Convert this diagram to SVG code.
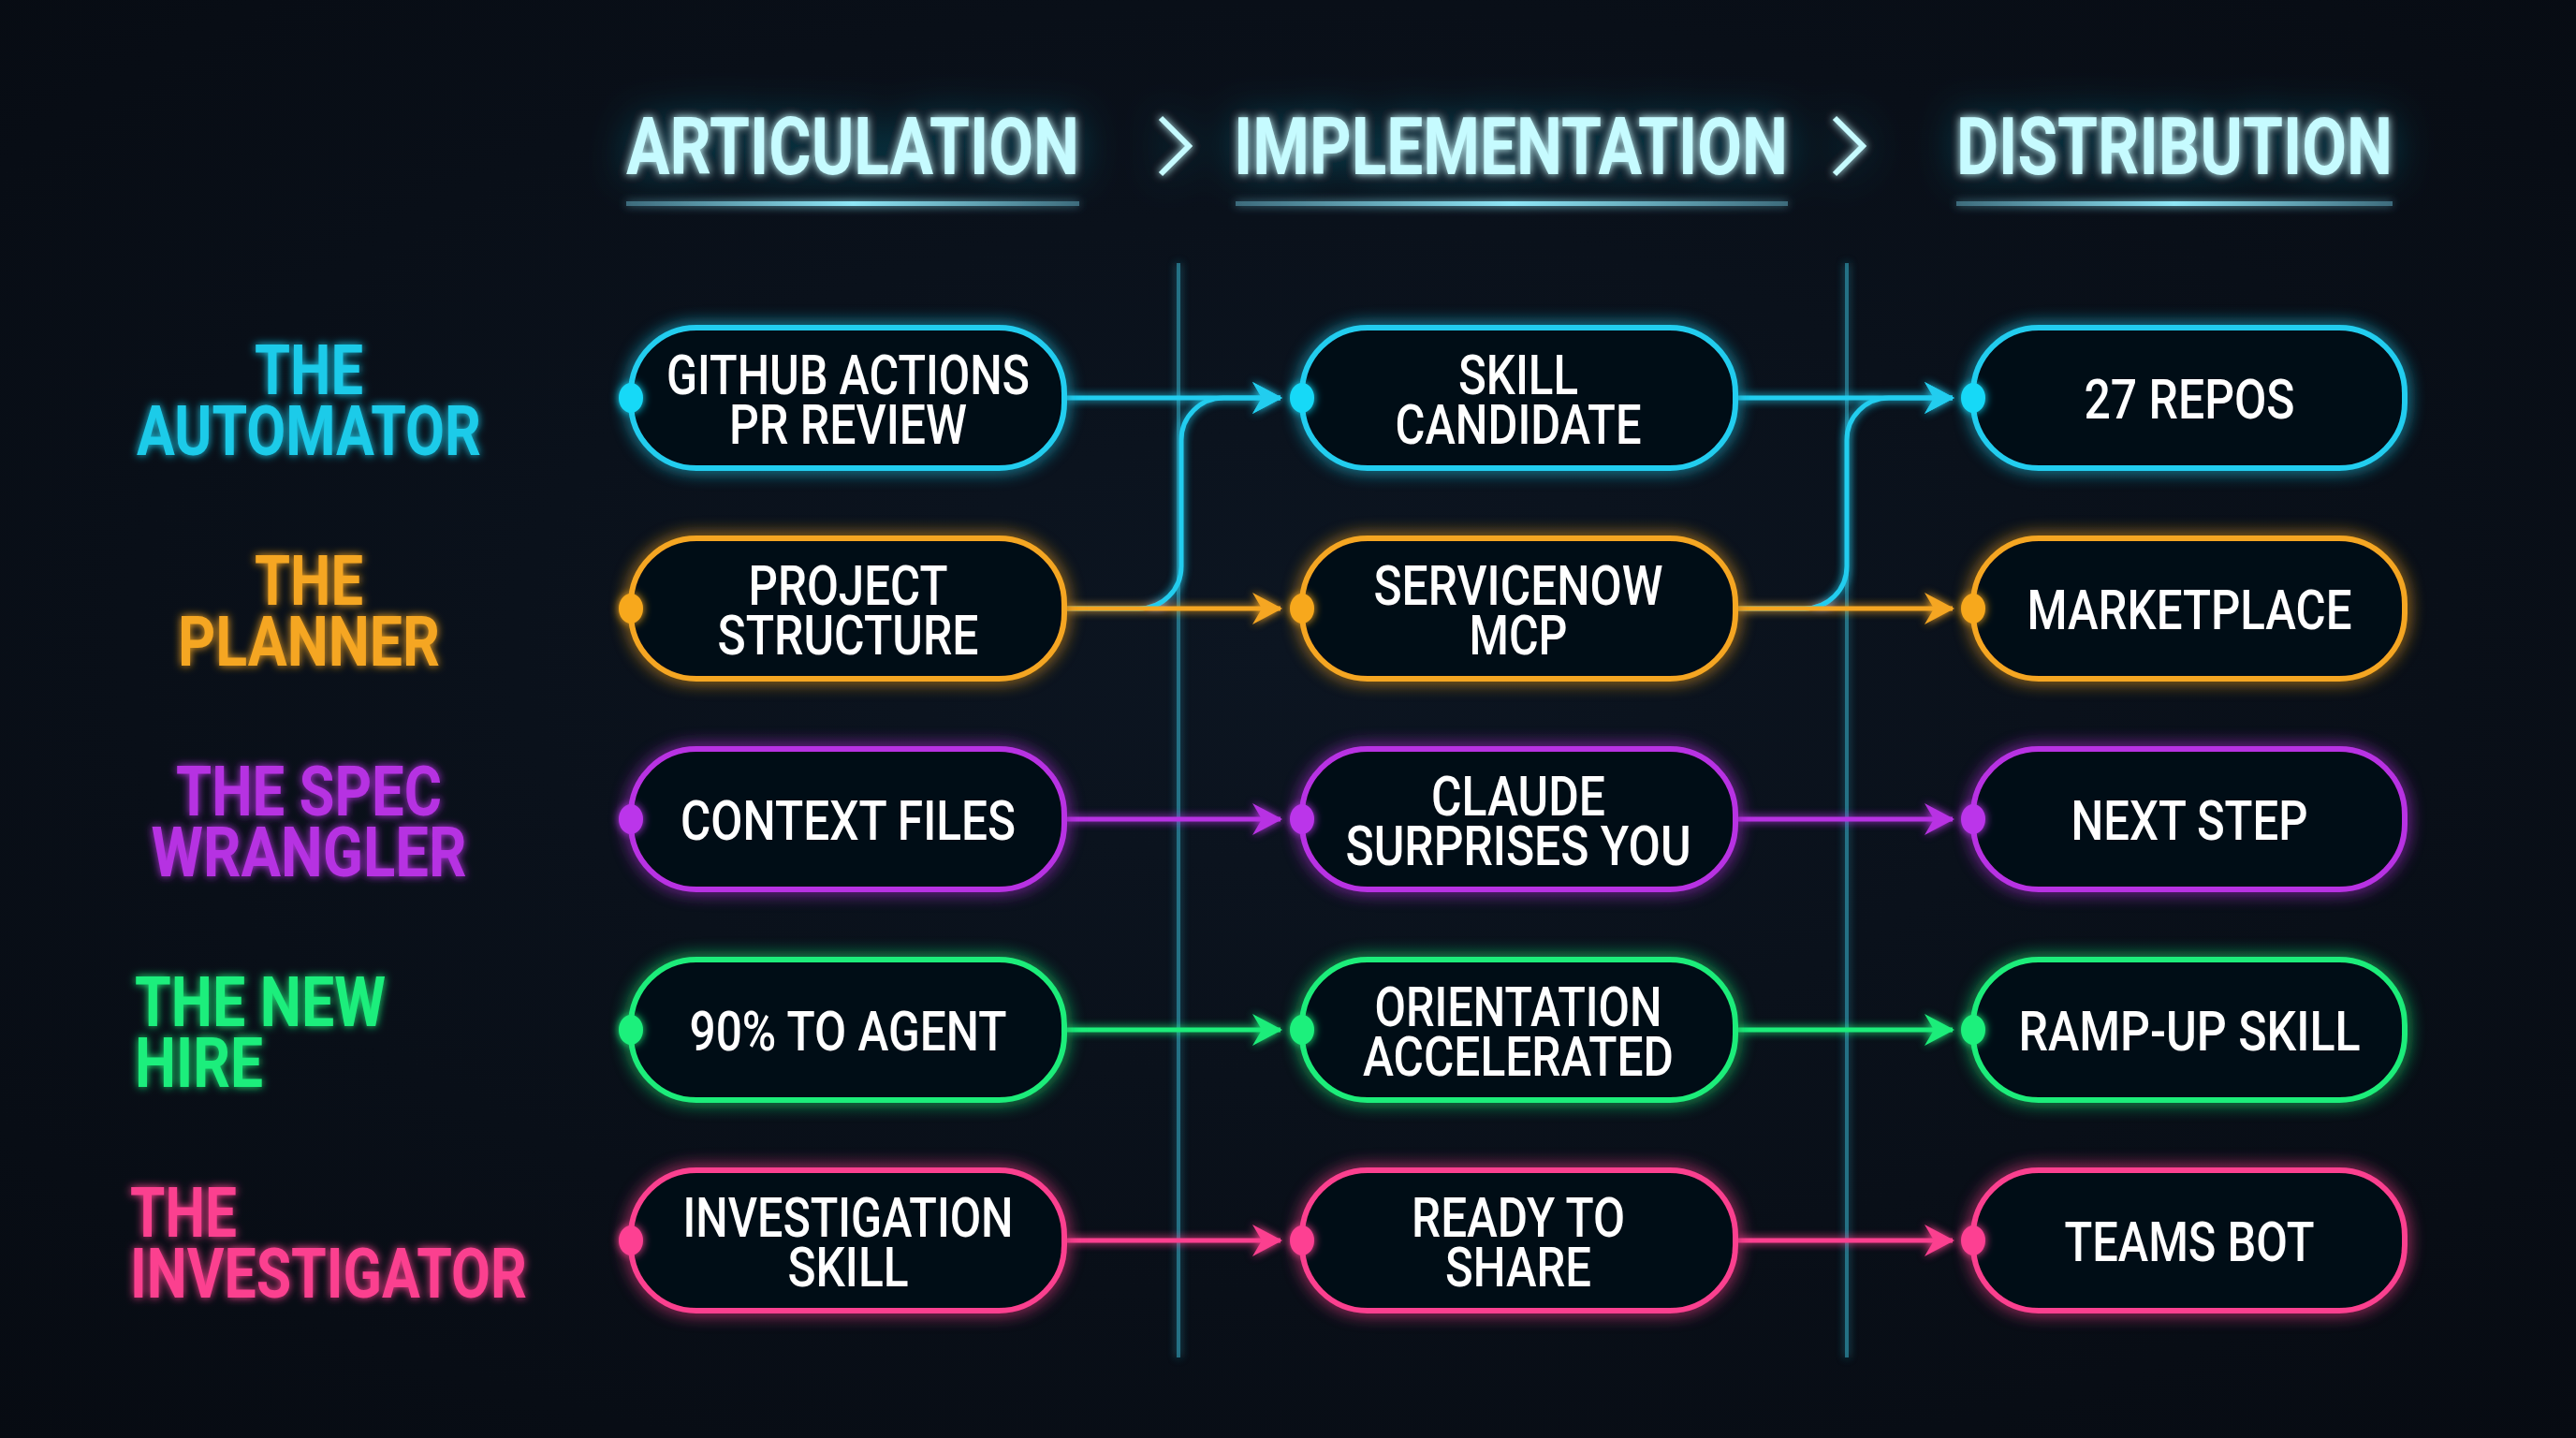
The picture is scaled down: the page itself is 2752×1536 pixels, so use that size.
<svg xmlns="http://www.w3.org/2000/svg" width="2752" height="1536" viewBox="0 0 2752 1536">
<defs>
<style>
.hdr{font-family:"Roboto","Liberation Sans",sans-serif;font-weight:700;font-size:86px;fill:#c6fbff;}
.lbl{font-family:"Roboto","Liberation Sans",sans-serif;font-weight:700;font-size:74px;}
.nt{font-family:"Roboto","Liberation Sans",sans-serif;font-weight:500;font-size:60px;fill:#ffffff;text-anchor:middle;}
.box{fill:#060b14;stroke-width:6;}
.ln{fill:none;stroke-width:5;}
.cyan .box,.cyan.ln{stroke:#22cdef;}
.cyan .dot{fill:#19d9f7;}
.orange .box,.orange.ln{stroke:#f5a623;}
.orange .dot{fill:#f7a81f;}
.purple .box,.purple.ln{stroke:#b833e3;}
.purple .dot{fill:#bb35ea;}
.green .box,.green.ln{stroke:#1ded7a;}
.green .dot{fill:#1df07c;}
.pink .box,.pink.ln{stroke:#fb3f8f;}
.pink .dot{fill:#fd3f92;}
.divider{stroke:#2c8fa6;stroke-width:4;opacity:0.7;}
</style>
<radialGradient id="bg" cx="50%" cy="45%" r="75%">
<stop offset="0" stop-color="#0c1521"/>
<stop offset="1" stop-color="#070b12"/>
</radialGradient>
<linearGradient id="ul" x1="0" x2="1" y1="0" y2="0">
<stop offset="0" stop-color="#3d6b7c"/>
<stop offset="0.5" stop-color="#8fe7f7"/>
<stop offset="1" stop-color="#3d6b7c"/>
</linearGradient>
<filter id="glow" filterUnits="userSpaceOnUse" x="0" y="0" width="2752" height="1536">
<feGaussianBlur in="SourceGraphic" stdDeviation="9" result="b"/>
<feMerge><feMergeNode in="b"/><feMergeNode in="SourceGraphic"/></feMerge>
</filter>
<filter id="glowS" filterUnits="userSpaceOnUse" x="0" y="0" width="2752" height="1536">
<feGaussianBlur in="SourceGraphic" stdDeviation="5" result="b"/>
<feMerge><feMergeNode in="b"/><feMergeNode in="SourceGraphic"/></feMerge>
</filter>
<filter id="glowH" filterUnits="userSpaceOnUse" x="0" y="0" width="2752" height="1536">
<feGaussianBlur in="SourceAlpha" stdDeviation="22" result="a"/>
<feFlood flood-color="#0f8aa3" flood-opacity="0.7"/>
<feComposite operator="in" in2="a" result="g"/>
<feGaussianBlur in="SourceGraphic" stdDeviation="4" result="b"/>
<feMerge><feMergeNode in="g"/><feMergeNode in="b"/><feMergeNode in="SourceGraphic"/></feMerge>
</filter>
<marker id="a-cyan" viewBox="0 0 32 34" refX="30" refY="17" markerWidth="32" markerHeight="34" markerUnits="userSpaceOnUse" orient="auto"><path d="M0,0 L32,17 L0,34 L10,17 Z" fill="#22cdef"/></marker>
<marker id="a-orange" viewBox="0 0 32 34" refX="30" refY="17" markerWidth="32" markerHeight="34" markerUnits="userSpaceOnUse" orient="auto"><path d="M0,0 L32,17 L0,34 L10,17 Z" fill="#f5a623"/></marker>
<marker id="a-purple" viewBox="0 0 32 34" refX="30" refY="17" markerWidth="32" markerHeight="34" markerUnits="userSpaceOnUse" orient="auto"><path d="M0,0 L32,17 L0,34 L10,17 Z" fill="#b833e3"/></marker>
<marker id="a-green" viewBox="0 0 32 34" refX="30" refY="17" markerWidth="32" markerHeight="34" markerUnits="userSpaceOnUse" orient="auto"><path d="M0,0 L32,17 L0,34 L10,17 Z" fill="#1ded7a"/></marker>
<marker id="a-pink" viewBox="0 0 32 34" refX="30" refY="17" markerWidth="32" markerHeight="34" markerUnits="userSpaceOnUse" orient="auto"><path d="M0,0 L32,17 L0,34 L10,17 Z" fill="#fb3f8f"/></marker>
</defs>

<rect x="0" y="0" width="2752" height="1536" fill="url(#bg)"/>

<!-- headers -->
<g id="headers" filter="url(#glowH)">
<text class="hdr" x="669" y="186" textLength="484" lengthAdjust="spacingAndGlyphs">ARTICULATION</text>
<text class="hdr" x="1318" y="186" textLength="592" lengthAdjust="spacingAndGlyphs">IMPLEMENTATION</text>
<text class="hdr" x="2090" y="186" textLength="466" lengthAdjust="spacingAndGlyphs">DISTRIBUTION</text>
<polyline points="1240,126 1270,156 1240,186" fill="none" stroke="#c6fbff" stroke-width="6"/>
<polyline points="1960,126 1990,156 1960,186" fill="none" stroke="#c6fbff" stroke-width="6"/>
</g>
<g id="underlines" filter="url(#glowS)">
<rect x="669" y="215" width="484" height="5" fill="url(#ul)"/>
<rect x="1320" y="215" width="590" height="5" fill="url(#ul)"/>
<rect x="2090" y="215" width="466" height="5" fill="url(#ul)"/>
</g>

<!-- dividers -->
<g id="dividers" filter="url(#glowS)">
<line class="divider" x1="1259" y1="281" x2="1259" y2="1450"/>
<line class="divider" x1="1973" y1="281" x2="1973" y2="1450"/>
</g>

<!-- row labels -->
<g id="labels" filter="url(#glowS)">
<g id="lbl-automator" fill="#1ccbe9">
<text class="lbl" x="330" y="421" text-anchor="middle" textLength="116" lengthAdjust="spacingAndGlyphs">THE</text>
<text class="lbl" x="330" y="486" text-anchor="middle" textLength="368" lengthAdjust="spacingAndGlyphs">AUTOMATOR</text>
</g>
<g id="lbl-planner" fill="#f5a623">
<text class="lbl" x="330" y="646" text-anchor="middle" textLength="116" lengthAdjust="spacingAndGlyphs">THE</text>
<text class="lbl" x="330" y="711" text-anchor="middle" textLength="280" lengthAdjust="spacingAndGlyphs">PLANNER</text>
</g>
<g id="lbl-spec" fill="#b631e2">
<text class="lbl" x="330" y="871" text-anchor="middle" textLength="284" lengthAdjust="spacingAndGlyphs">THE SPEC</text>
<text class="lbl" x="330" y="936" text-anchor="middle" textLength="337" lengthAdjust="spacingAndGlyphs">WRANGLER</text>
</g>
<g id="lbl-newhire" fill="#1cee7b">
<text class="lbl" x="144" y="1096" textLength="268" lengthAdjust="spacingAndGlyphs">THE NEW</text>
<text class="lbl" x="144" y="1161" textLength="137" lengthAdjust="spacingAndGlyphs">HIRE</text>
</g>
<g id="lbl-investigator" fill="#fb3f8f">
<text class="lbl" x="139" y="1321" textLength="114" lengthAdjust="spacingAndGlyphs">THE</text>
<text class="lbl" x="139" y="1386" textLength="424" lengthAdjust="spacingAndGlyphs">INVESTIGATOR</text>
</g>
</g>

<!-- connectors -->
<g id="connectors" filter="url(#glowS)">
<path class="ln cyan" d="M1137,650 L1217,650 A45,45 0 0 0 1262,605 L1262,470 A45,45 0 0 1 1307,425 L1368,425" marker-end="url(#a-cyan)"/>
<path class="ln cyan" d="M1853,650 L1928,650 A45,45 0 0 0 1973,605 L1973,470 A45,45 0 0 1 2018,425 L2086,425" marker-end="url(#a-cyan)"/>
<path class="ln cyan" d="M1137,425 L1368,425" marker-end="url(#a-cyan)"/>
<path class="ln cyan" d="M1853,425 L2086,425" marker-end="url(#a-cyan)"/>
<path class="ln orange" d="M1137,650 L1368,650" marker-end="url(#a-orange)"/>
<path class="ln orange" d="M1853,650 L2086,650" marker-end="url(#a-orange)"/>
<path class="ln purple" d="M1137,875 L1368,875" marker-end="url(#a-purple)"/>
<path class="ln purple" d="M1853,875 L2086,875" marker-end="url(#a-purple)"/>
<path class="ln green" d="M1137,1100 L1368,1100" marker-end="url(#a-green)"/>
<path class="ln green" d="M1853,1100 L2086,1100" marker-end="url(#a-green)"/>
<path class="ln pink" d="M1137,1325 L1368,1325" marker-end="url(#a-pink)"/>
<path class="ln pink" d="M1853,1325 L2086,1325" marker-end="url(#a-pink)"/>
</g>

<!-- nodes: row 1 -->
<g id="n-github" class="node cyan">
<rect class="box" x="674" y="350" width="463" height="150" rx="70" filter="url(#glow)"/>
<ellipse class="dot" cx="674" cy="425" rx="13" ry="16" filter="url(#glowS)"/>
<text class="nt" x="906" y="421" textLength="388" lengthAdjust="spacingAndGlyphs">GITHUB ACTIONS</text>
<text class="nt" x="906" y="474" textLength="254" lengthAdjust="spacingAndGlyphs">PR REVIEW</text>
</g>
<g id="n-skill-candidate" class="node cyan">
<rect class="box" x="1391" y="350" width="463" height="150" rx="70" filter="url(#glow)"/>
<ellipse class="dot" cx="1391" cy="425" rx="13" ry="16" filter="url(#glowS)"/>
<text class="nt" x="1622" y="421" textLength="128" lengthAdjust="spacingAndGlyphs">SKILL</text>
<text class="nt" x="1622" y="474" textLength="263" lengthAdjust="spacingAndGlyphs">CANDIDATE</text>
</g>
<g id="n-27repos" class="node cyan">
<rect class="box" x="2108" y="350" width="461" height="150" rx="70" filter="url(#glow)"/>
<ellipse class="dot" cx="2108" cy="425" rx="13" ry="16" filter="url(#glowS)"/>
<text class="nt" x="2339" y="447" textLength="225" lengthAdjust="spacingAndGlyphs">27 REPOS</text>
</g>

<!-- row 2 -->
<g id="n-project" class="node orange">
<rect class="box" x="674" y="575" width="463" height="150" rx="70" filter="url(#glow)"/>
<ellipse class="dot" cx="674" cy="650" rx="13" ry="16" filter="url(#glowS)"/>
<text class="nt" x="906" y="646" textLength="213" lengthAdjust="spacingAndGlyphs">PROJECT</text>
<text class="nt" x="906" y="699" textLength="279" lengthAdjust="spacingAndGlyphs">STRUCTURE</text>
</g>
<g id="n-servicenow" class="node orange">
<rect class="box" x="1391" y="575" width="463" height="150" rx="70" filter="url(#glow)"/>
<ellipse class="dot" cx="1391" cy="650" rx="13" ry="16" filter="url(#glowS)"/>
<text class="nt" x="1622" y="646" textLength="309" lengthAdjust="spacingAndGlyphs">SERVICENOW</text>
<text class="nt" x="1622" y="699" textLength="105" lengthAdjust="spacingAndGlyphs">MCP</text>
</g>
<g id="n-marketplace" class="node orange">
<rect class="box" x="2108" y="575" width="461" height="150" rx="70" filter="url(#glow)"/>
<ellipse class="dot" cx="2108" cy="650" rx="13" ry="16" filter="url(#glowS)"/>
<text class="nt" x="2339" y="672" textLength="347" lengthAdjust="spacingAndGlyphs">MARKETPLACE</text>
</g>

<!-- row 3 -->
<g id="n-context" class="node purple">
<rect class="box" x="674" y="800" width="463" height="150" rx="70" filter="url(#glow)"/>
<ellipse class="dot" cx="674" cy="875" rx="13" ry="16" filter="url(#glowS)"/>
<text class="nt" x="906" y="897" textLength="358" lengthAdjust="spacingAndGlyphs">CONTEXT FILES</text>
</g>
<g id="n-claude" class="node purple">
<rect class="box" x="1391" y="800" width="463" height="150" rx="70" filter="url(#glow)"/>
<ellipse class="dot" cx="1391" cy="875" rx="13" ry="16" filter="url(#glowS)"/>
<text class="nt" x="1622" y="871" textLength="186" lengthAdjust="spacingAndGlyphs">CLAUDE</text>
<text class="nt" x="1622" y="924" textLength="369" lengthAdjust="spacingAndGlyphs">SURPRISES YOU</text>
</g>
<g id="n-nextstep" class="node purple">
<rect class="box" x="2108" y="800" width="461" height="150" rx="70" filter="url(#glow)"/>
<ellipse class="dot" cx="2108" cy="875" rx="13" ry="16" filter="url(#glowS)"/>
<text class="nt" x="2339" y="897" textLength="253" lengthAdjust="spacingAndGlyphs">NEXT STEP</text>
</g>

<!-- row 4 -->
<g id="n-90pct" class="node green">
<rect class="box" x="674" y="1025" width="463" height="150" rx="70" filter="url(#glow)"/>
<ellipse class="dot" cx="674" cy="1100" rx="13" ry="16" filter="url(#glowS)"/>
<text class="nt" x="906" y="1122" textLength="339" lengthAdjust="spacingAndGlyphs">90% TO AGENT</text>
</g>
<g id="n-orientation" class="node green">
<rect class="box" x="1391" y="1025" width="463" height="150" rx="70" filter="url(#glow)"/>
<ellipse class="dot" cx="1391" cy="1100" rx="13" ry="16" filter="url(#glowS)"/>
<text class="nt" x="1622" y="1096" textLength="307" lengthAdjust="spacingAndGlyphs">ORIENTATION</text>
<text class="nt" x="1622" y="1149" textLength="332" lengthAdjust="spacingAndGlyphs">ACCELERATED</text>
</g>
<g id="n-rampup" class="node green">
<rect class="box" x="2108" y="1025" width="461" height="150" rx="70" filter="url(#glow)"/>
<ellipse class="dot" cx="2108" cy="1100" rx="13" ry="16" filter="url(#glowS)"/>
<text class="nt" x="2339" y="1122" textLength="365" lengthAdjust="spacingAndGlyphs">RAMP-UP SKILL</text>
</g>

<!-- row 5 -->
<g id="n-investigation" class="node pink">
<rect class="box" x="674" y="1250" width="463" height="150" rx="70" filter="url(#glow)"/>
<ellipse class="dot" cx="674" cy="1325" rx="13" ry="16" filter="url(#glowS)"/>
<text class="nt" x="906" y="1321" textLength="353" lengthAdjust="spacingAndGlyphs">INVESTIGATION</text>
<text class="nt" x="906" y="1374" textLength="129" lengthAdjust="spacingAndGlyphs">SKILL</text>
</g>
<g id="n-ready" class="node pink">
<rect class="box" x="1391" y="1250" width="463" height="150" rx="70" filter="url(#glow)"/>
<ellipse class="dot" cx="1391" cy="1325" rx="13" ry="16" filter="url(#glowS)"/>
<text class="nt" x="1622" y="1321" textLength="228" lengthAdjust="spacingAndGlyphs">READY TO</text>
<text class="nt" x="1622" y="1374" textLength="156" lengthAdjust="spacingAndGlyphs">SHARE</text>
</g>
<g id="n-teamsbot" class="node pink">
<rect class="box" x="2108" y="1250" width="461" height="150" rx="70" filter="url(#glow)"/>
<ellipse class="dot" cx="2108" cy="1325" rx="13" ry="16" filter="url(#glowS)"/>
<text class="nt" x="2339" y="1347" textLength="267" lengthAdjust="spacingAndGlyphs">TEAMS BOT</text>
</g>
</svg>
